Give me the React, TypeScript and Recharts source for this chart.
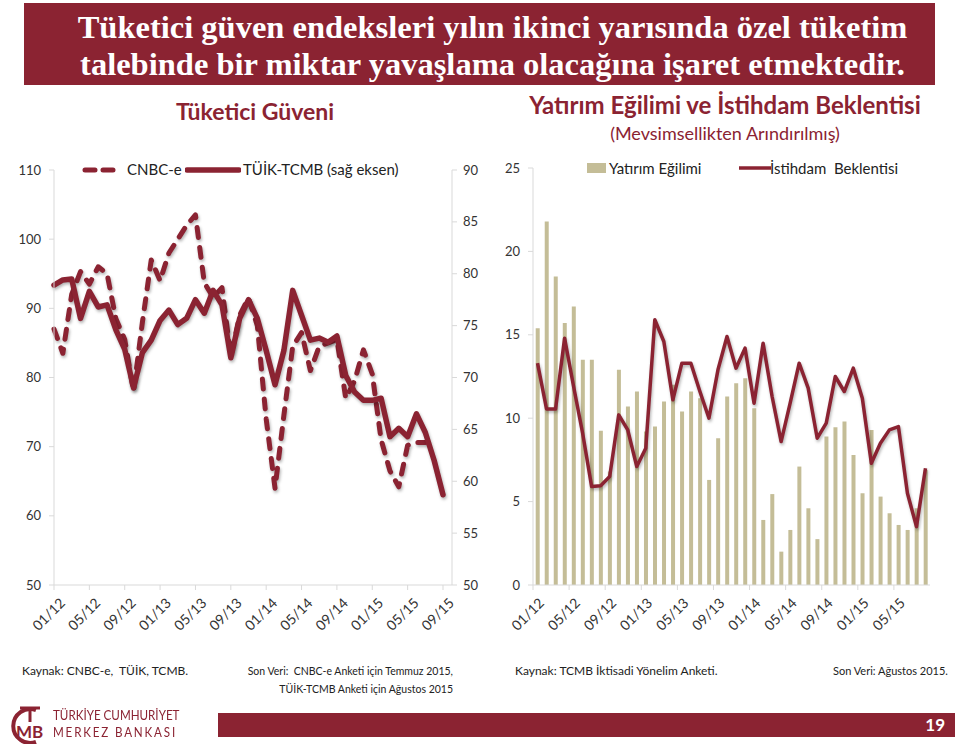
import React from 'react';
import { LineChart, ComposedChart, Line, Bar, XAxis, YAxis } from 'recharts';

const RED = '#8B2332';
const TAN = '#C4BD97';
const AXIS = '#D9D9D9';
const INK = '#333333';
const SANS = 'Lato, "Open Sans", sans-serif';

// months 01/12 .. 09/15
const months = [
  '01/12', '02/12', '03/12', '04/12', '05/12', '06/12', '07/12', '08/12', '09/12', '10/12', '11/12', '12/12',
  '01/13', '02/13', '03/13', '04/13', '05/13', '06/13', '07/13', '08/13', '09/13', '10/13', '11/13', '12/13',
  '01/14', '02/14', '03/14', '04/14', '05/14', '06/14', '07/14', '08/14', '09/14', '10/14', '11/14', '12/14',
  '01/15', '02/15', '03/15', '04/15', '05/15', '06/15', '07/15', '08/15', '09/15',
];

// Tüketici Güveni
const cnbcE = [
  87, 83.5, 92, 95.3, 93.5, 96, 95, 88.5, 85.5, 78, 88, 97,
  94, 98, 100, 102, 103.5, 93.7, 91.6, 93, 83, 89, 91.5, 87.5,
  74, 64, 74.5, 84.5, 86.5, 81, 84.5, 85, 85.5, 77, 79.5, 84,
  80.5, 71, 66.5, 64.2, 70.2, 70.6, 70.6, null, null,
];
const tuikTcmb = [
  78.9, 79.4, 79.5, 75.7, 78.3, 76.8, 77.0, 74.6, 72.7, 69.0, 72.4, 73.6,
  75.5, 76.5, 75.1, 75.7, 77.5, 76.2, 78.4, 77.0, 71.9, 75.7, 77.5, 75.7,
  72.6, 69.3, 72.6, 78.4, 76.0, 73.6, 73.8, 73.4, 74.0, 70.2, 68.6, 67.8,
  67.8, 68.0, 64.3, 65.1, 64.3, 66.5, 64.7, 62.0, 58.7,
];
const leftTicks = [50, 60, 70, 80, 90, 100, 110];
const rightTicks = [50, 55, 60, 65, 70, 75, 80, 85, 90];

// Yatırım Eğilimi ve İstihdam Beklentisi (01/12 .. 08/15)
const yatirim = [
  15.4, 21.8, 18.5, 15.7, 16.7, 13.5, 13.5, 9.25, 6.8, 12.9, 10.7, 11.6,
  9.2, 9.5, 11.0, 12.0, 10.4, 11.6, 11.2, 6.3, 8.8, 11.3, 12.1, 12.4,
  10.6, 3.9, 5.45, 2.0, 3.3, 7.1, 4.6, 2.75, 8.9, 9.45, 9.8, 7.8,
  5.5, 9.3, 5.3, 4.3, 3.6, 3.3, 4.6, 6.9,
];
const istihdam = [
  13.3, 10.55, 10.55, 14.8, 11.9, 9.1, 5.9, 5.95, 6.5, 10.2, 9.3, 7.1,
  8.2, 15.9, 14.6, 11.1, 13.3, 13.3, 11.6, 10.0, 12.9, 14.9, 13.0, 14.2,
  10.9, 14.5, 11.3, 8.6, 10.9, 13.3, 11.8, 8.8, 9.7, 12.5, 11.6, 13.0,
  11.2, 7.3, 8.5, 9.3, 9.5, 5.5, 3.5, 7.0,
];
const invTicks = [0, 5, 10, 15, 20, 25];

const leftData = months.map((m, i) => ({ m, cnbc: cnbcE[i], tuik: tuikTcmb[i] }));
const rightData = yatirim.map((v, i) => ({ m: months[i], yat: v, ist: istihdam[i] }));

const RotTick = (props: any) => {
  const { x, y, payload, shift = 0 } = props;
  const tx = x - shift;
  return (
    <g>
      {shift ? <line x1={tx} x2={tx} y1={y - 7} y2={y - 2} stroke={AXIS} /> : null}
      <g transform={`translate(${tx + 12},${y + 12})`}>
        <text x={0} y={0} transform="rotate(-45)" textAnchor="end" fontSize={14} fontFamily={SANS} fill={INK}>
          {payload.value}
        </text>
      </g>
    </g>
  );
};

const tickStyle = { fontSize: 13, fontFamily: SANS, fill: INK };

const TuketiciChart = () => (
  <LineChart width={500} height={490} data={leftData} margin={{ top: 10, right: 0, left: 8, bottom: 10 }}>
    <XAxis
      dataKey="m"
      scale="point"
      padding={{ left: 0, right: 9 }}
      interval={3}
      height={55}
      tickSize={5}
      tickLine={{ stroke: AXIS }}
      axisLine={{ stroke: AXIS }}
      tick={<RotTick />}
    />
    <YAxis
      yAxisId="l"
      domain={[50, 110]}
      ticks={leftTicks}
      width={46}
      tickSize={5}
      tickMargin={8}
      tickLine={{ stroke: AXIS }}
      axisLine={{ stroke: AXIS }}
      tick={tickStyle}
    />
    <YAxis
      yAxisId="r"
      orientation="right"
      domain={[50, 90]}
      ticks={rightTicks}
      width={48}
      tickSize={5}
      tickMargin={6}
      tickLine={{ stroke: AXIS }}
      axisLine={{ stroke: AXIS }}
      tick={tickStyle}
    />
    <Line
      yAxisId="l"
      type="linear"
      dataKey="cnbc"
      stroke={RED}
      strokeWidth={5}
      strokeDasharray="10 10"
      strokeLinecap="round"
      strokeLinejoin="round"
      dot={false}
      isAnimationActive={false}
    />
    <Line
      yAxisId="r"
      type="linear"
      dataKey="tuik"
      stroke={RED}
      strokeWidth={5.5}
      strokeLinejoin="round"
      strokeLinecap="round"
      dot={false}
      isAnimationActive={false}
    />
  </LineChart>
);

const YatirimChart = () => (
  <ComposedChart
    width={460}
    height={490}
    data={rightData}
    margin={{ top: 10, right: 10, left: 13, bottom: 10 }}
    barCategoryGap="30%"
  >
    <XAxis
      dataKey="m"
      interval={3}
      height={53}
      tickSize={5}
      tickLine={false}
      axisLine={{ stroke: AXIS }}
      tick={<RotTick shift={4.5} />}
    />
    <YAxis
      domain={[0, 25]}
      ticks={invTicks}
      width={40}
      tickSize={5}
      tickMargin={8}
      tickLine={{ stroke: AXIS }}
      axisLine={{ stroke: AXIS }}
      tick={tickStyle}
    />
    <Bar dataKey="yat" fill={TAN} isAnimationActive={false} />
    <Line
      type="linear"
      dataKey="ist"
      stroke={RED}
      strokeWidth={3.5}
      strokeLinejoin="round"
      dot={false}
      isAnimationActive={false}
    />
  </ComposedChart>
);

const abs = (left: number, top: number, extra: React.CSSProperties = {}): React.CSSProperties => ({
  position: 'absolute',
  left,
  top,
  whiteSpace: 'nowrap',
  ...extra,
});

const legendText: React.CSSProperties = { fontFamily: SANS, fontSize: 15, color: '#222', lineHeight: '18px' };
const footText: React.CSSProperties = { fontFamily: SANS, fontSize: 12, color: '#222', lineHeight: '16px' };
const logoText: React.CSSProperties = {
  fontFamily: SANS,
  fontSize: 14,
  color: RED,
  lineHeight: '16px',
  transform: 'scaleX(0.83)',
  transformOrigin: 'left center',
};

export default function App() {
  return (
    <div style={{ position: 'absolute', left: 0, top: 0, width: 960, height: 745, background: '#fff', overflow: 'hidden' }}>
      {/* soft shadow like the Excel lines */}
      <style>{`.recharts-line-curve { filter: drop-shadow(1.5px 2px 1.5px rgba(0,0,0,0.3)); }`}</style>

      {/* title band */}
      <div style={abs(24, 3, { width: 911, height: 82, background: RED })} />
      <div
        style={abs(60, 9, {
          width: 865,
          textAlign: 'center',
          color: '#fff',
          fontFamily: '"Liberation Serif", serif',
          fontWeight: 700,
          fontSize: 32.5,
          lineHeight: '37px',
        })}
      >
        Tüketici güven endeksleri yılın ikinci yarısında özel tüketim
        <br />
        talebinde bir miktar yavaşlama olacağına işaret etmektedir.
      </div>

      {/* left chart */}
      <div style={abs(0, 97, { width: 510, textAlign: 'center', fontFamily: SANS, fontWeight: 700, fontSize: 23, color: RED })}>
        Tüketici Güveni
      </div>
      <div style={abs(0, 160)}>
        <TuketiciChart />
      </div>
      <svg style={abs(82, 163)} width={40} height={14}>
        <line x1={3} x2={37} y1={7} y2={7} stroke={RED} strokeWidth={5} strokeDasharray="10 8" strokeLinecap="round" />
      </svg>
      <div style={abs(127, 160, legendText)}>CNBC-e</div>
      <svg style={abs(185, 163)} width={56} height={14}>
        <line x1={2} x2={54} y1={7} y2={7} stroke={RED} strokeWidth={5.5} strokeLinecap="round" />
      </svg>
      <div style={abs(243, 160, legendText)}>TÜİK-TCMB (sağ eksen)</div>

      {/* right chart */}
      <div style={abs(490, 90, { width: 470, textAlign: 'center', fontFamily: SANS, fontWeight: 700, fontSize: 24, color: RED })}>
        Yatırım Eğilimi ve İstihdam Beklentisi
      </div>
      <div style={abs(490, 122, { width: 470, textAlign: 'center', fontFamily: SANS, fontSize: 18, color: RED })}>
        (Mevsimsellikten Arındırılmış)
      </div>
      <div style={abs(480, 158)}>
        <YatirimChart />
      </div>
      <div style={abs(587, 163, { width: 19, height: 10, background: TAN })} />
      <div style={abs(609, 159, legendText)}>Yatırım Eğilimi</div>
      <svg style={abs(739, 161)} width={32} height={14}>
        <line x1={0} x2={32} y1={7} y2={7} stroke={RED} strokeWidth={3.5} />
      </svg>
      <div style={abs(770, 159, legendText)}>İstihdam&nbsp;&nbsp;Beklentisi</div>

      {/* footnotes */}
      <div style={abs(22, 663, footText)}>Kaynak: CNBC-e,&nbsp;&nbsp;TÜİK, TCMB.</div>
      <div style={abs(200, 662, { ...footText, fontSize: 10.5, lineHeight: '18px', width: 253, textAlign: 'right' })}>
        Son Veri:&nbsp;&nbsp;CNBC-e Anketi için Temmuz 2015,
        <br />
        TÜİK-TCMB Anketi için Ağustos 2015
      </div>
      <div style={abs(515, 663, footText)}>Kaynak: TCMB İktisadi Yönelim Anketi.</div>
      <div style={abs(833, 663, { ...footText, fontSize: 11 })}>Son Veri: Ağustos 2015.</div>

      {/* bottom band */}
      <svg style={abs(6, 704)} width={46} height={40}>
        <path d="M 30 6 A 17 17 0 1 0 30 38" fill="none" stroke={RED} strokeWidth={4} />
        <line x1={14} x2={34} y1={4} y2={4} stroke={RED} strokeWidth={3} />
        <line x1={24} x2={24} y1={4} y2={18} stroke={RED} strokeWidth={3} />
        <text x={10} y={34} fontFamily={SANS} fontWeight={700} fontSize={17} fill={RED}>
          MB
        </text>
      </svg>
      <div style={abs(53, 707, logoText)}>TÜRKİYE CUMHURİYET</div>
      <div style={abs(53, 724, { ...logoText, letterSpacing: 2.2 })}>MERKEZ BANKASI</div>
      <div style={abs(218, 713, { width: 737, height: 24, background: RED })} />
      <div style={abs(915, 714, { width: 30, textAlign: 'right', fontFamily: SANS, fontWeight: 700, fontSize: 17, color: '#fff', lineHeight: '22px' })}>
        19
      </div>
    </div>
  );
}
